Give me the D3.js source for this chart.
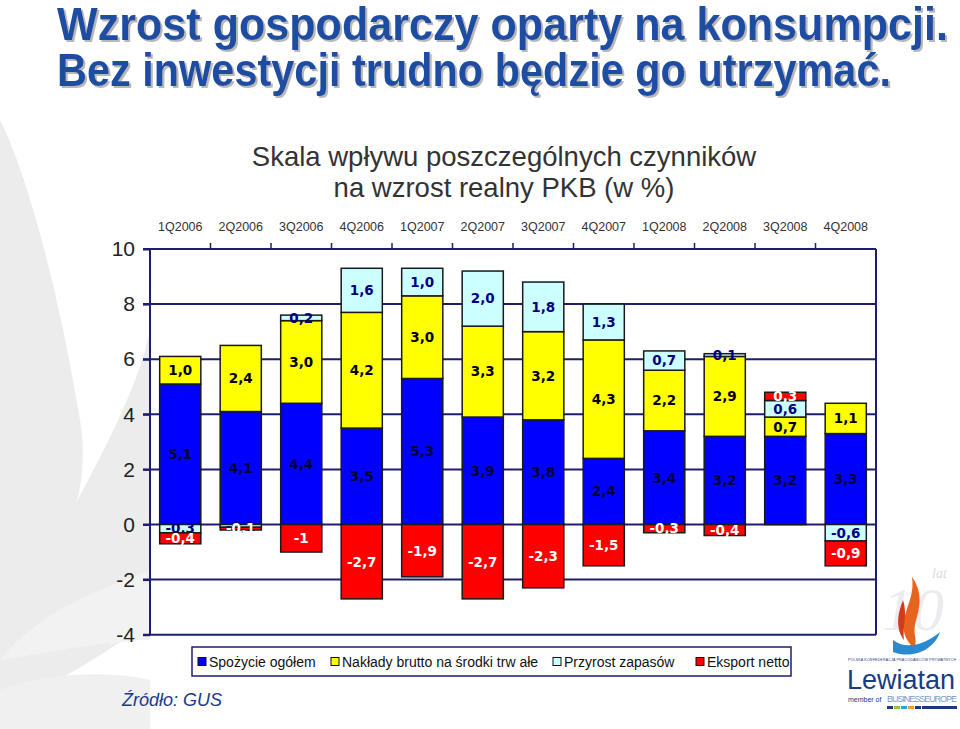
<!DOCTYPE html>
<html>
<head>
<meta charset="utf-8">
<script src="https://cdn.jsdelivr.net/npm/d3@7"></script>
<style>
  body { margin: 0; background: #fff; }
  svg { display: block; }
</style>
</head>
<body>
<div id="chart"></div>
<script>
// dane
const quarters = ["1Q2006", "2Q2006", "3Q2006", "4Q2006", "1Q2007", "2Q2007",
                  "3Q2007", "4Q2007", "1Q2008", "2Q2008", "3Q2008", "4Q2008"];
const spozycie = [5.1, 4.1, 4.4, 3.5, 5.3, 3.9, 3.8, 2.4, 3.4, 3.2, 3.2, 3.3];
const naklady  = [1.0, 2.4, 3.0, 4.2, 3.0, 3.3, 3.2, 4.3, 2.2, 2.9, 0.7, 1.1];
const zapasy   = [-0.3, -0.1, 0.2, 1.6, 1.0, 2.0, 1.8, 1.3, 0.7, 0.1, 0.6, -0.6];
const eksport  = [-0.4, -0.1, -1.0, -2.7, -1.9, -2.7, -2.3, -1.5, -0.3, -0.4, 0.3, -0.9];
const yTicks = [-4, -2, 0, 2, 4, 6, 8, 10];

const seriesNames = ["Spożycie ogółem", "Nakłady brutto na środki trw ałe", "Przyrost zapasów", "Eksport netto"];
const keys = ["spozycie", "naklady", "zapasy", "eksport"];
const colors = ["#0000ff", "#ffff00", "#ccffff", "#ff0000"];
const labelColors = ["#000033", "#000000", "#000080", "#ffffff"];

const width = 960, height = 729;
const margin = { top: 249, right: 84, bottom: 94, left: 150 };

const rows = quarters.map((q, i) => ({
    q: q, spozycie: spozycie[i], naklady: naklady[i], zapasy: zapasy[i], eksport: eksport[i]
}));

const svg = d3.select("#chart").append("svg")
    .attr("width", width)
    .attr("height", height);

// cień tytułu
const defs = svg.append("defs");
defs.append("filter")
    .attr("id", "shadow")
    .attr("x", "-5%").attr("y", "-20%").attr("width", "110%").attr("height", "150%")
    .append("feDropShadow")
    .attr("dx", 2).attr("dy", 2)
    .attr("stdDeviation", 0.6)
    .attr("flood-color", "#b8b8b8");

// tło - jasnoszare łuki po lewej
const bg = svg.append("g").attr("fill", "#ececec");
bg.append("path").attr("d", "M0,120 C30,180 60,300 80,420 C90,480 70,520 75,505 C110,440 140,380 150,330 L150,620 C100,660 40,690 0,710 Z");
bg.append("path").attr("d", "M0,660 C40,610 100,590 150,570 L150,640 C110,640 105,650 110,642 Z").attr("fill", "#f2f2f2");
bg.append("path").attr("d", "M0,690 C50,670 120,672 150,680 L150,729 L0,729 Z").attr("fill", "#f0f0f0");

// tytuł
svg.append("g")
    .attr("font-family", "'Liberation Sans Narrow', 'Arial Narrow', 'Liberation Sans', Arial, sans-serif")
    .attr("font-weight", "bold")
    .attr("font-size", 47)
    .attr("fill", "#1f4ea3")
    .attr("filter", "url(#shadow)")
    .selectAll("text")
    .data([["Wzrost gospodarczy oparty na konsumpcji.", 40, 891], ["Bez inwestycji trudno będzie go utrzymać.", 86, 834]])
    .join("text")
    .attr("x", 57)
    .attr("y", d => d[1])
    .attr("textLength", d => d[2])
    .attr("lengthAdjust", "spacingAndGlyphs")
    .text(d => d[0]);

// podtytuł
svg.append("g")
    .attr("font-family", "'Liberation Sans', Arial, sans-serif")
    .attr("font-size", 27.5)
    .attr("fill", "#333")
    .attr("text-anchor", "middle")
    .selectAll("text")
    .data(["Skala wpływu poszczególnych czynników", "na wzrost realny PKB (w %)"])
    .join("text")
    .attr("x", 504)
    .attr("y", (d, i) => 166 + i * 31)
    .text(d => d);

const x = d3.scaleBand()
    .domain(quarters)
    .range([margin.left, width - margin.right])
    .paddingInner(0.32)
    .paddingOuter(0.16);

const y = d3.scaleLinear()
    .domain([-4, 10])
    .range([height - margin.bottom - 0.3, margin.top]);

const axisColor = "#1e1e6e";

// linie siatki
svg.append("g")
    .selectAll("line")
    .data(yTicks)
    .join("line")
    .attr("x1", margin.left - 7)
    .attr("x2", width - margin.right)
    .attr("y1", d => y(d))
    .attr("y2", d => y(d))
    .attr("stroke", axisColor)
    .attr("stroke-width", 2);

// słupki
const stack = d3.stack().keys(keys).offset(d3.stackOffsetDiverging);
const stacked = stack(rows);

const layers = svg.append("g")
    .selectAll("g")
    .data(stacked)
    .join("g")
    .attr("fill", (d, i) => colors[i]);

layers.selectAll("rect")
    .data(d => d)
    .join("rect")
    .attr("x", d => x(d.data.q))
    .attr("y", d => y(Math.max(d[0], d[1])))
    .attr("width", x.bandwidth())
    .attr("height", d => Math.abs(y(d[0]) - y(d[1])))
    .attr("stroke", "#1a1a1a")
    .attr("stroke-width", 1.5);

// osie
svg.append("line")
    .attr("x1", margin.left).attr("x2", margin.left)
    .attr("y1", y(10)).attr("y2", y(-4))
    .attr("stroke", axisColor).attr("stroke-width", 2);
svg.append("line")
    .attr("x1", width - margin.right).attr("x2", width - margin.right)
    .attr("y1", y(10)).attr("y2", y(-4))
    .attr("stroke", axisColor).attr("stroke-width", 2);

// górna oś z kwartałami
const topAxis = svg.append("g")
    .attr("transform", `translate(0,${y(10)})`)
    .call(d3.axisTop(x).tickSize(0).tickPadding(18));
topAxis.select(".domain").remove();
topAxis.selectAll("text")
    .attr("font-family", "'Liberation Sans', Arial, sans-serif")
    .attr("font-size", 12.5)
    .attr("fill", "#333");
svg.append("g")
    .selectAll("line")
    .data(quarters.slice(1))
    .join("line")
    .attr("x1", d => x(d) - x.step() * x.paddingInner() / 2)
    .attr("x2", d => x(d) - x.step() * x.paddingInner() / 2)
    .attr("y1", y(10))
    .attr("y2", y(10) - 6)
    .attr("stroke", axisColor)
    .attr("stroke-width", 1.5);

// lewa oś
const leftAxis = svg.append("g")
    .attr("transform", `translate(${margin.left},0)`)
    .call(d3.axisLeft(y).tickValues(yTicks).tickFormat(d => String(d)).tickSize(7).tickPadding(8));
leftAxis.select(".domain").remove();
leftAxis.selectAll("line").attr("stroke", axisColor).attr("stroke-width", 2);
leftAxis.selectAll("text")
    .attr("font-family", "'Liberation Sans', Arial, sans-serif")
    .attr("font-size", 21)
    .attr("fill", "#222");

// etykiety wartości
const fmt1 = v => d3.format(".1f")(v).replace("−", "-").replace(".", ",");
const fmtG = v => String(v).replace(".", ",");

layers.each(function (layer, i) {
    d3.select(this).selectAll("text")
        .data(layer)
        .join("text")
        .attr("x", d => x(d.data.q) + x.bandwidth() / 2)
        .attr("y", d => (y(d[0]) + y(d[1])) / 2)
        .attr("dy", "0.36em")
        .attr("text-anchor", "middle")
        .attr("font-family", "'DejaVu Sans', Verdana, sans-serif")
        .attr("font-weight", "bold")
        .attr("font-size", 13.5)
        .attr("fill", labelColors[i])
        .text(d => {
            const v = d.data[layer.key];
            return layer.key === "eksport" ? fmtG(v) : fmt1(v);
        });
});

// legenda
const legend = svg.append("g");
legend.append("rect")
    .attr("x", 192).attr("y", 647)
    .attr("width", 599).attr("height", 29)
    .attr("fill", "#fff")
    .attr("stroke", axisColor)
    .attr("stroke-width", 1.5);
const legendX = [198, 331, 553, 696];
const items = legend.selectAll("g.item")
    .data(seriesNames)
    .join("g")
    .attr("class", "item")
    .attr("transform", (d, i) => `translate(${legendX[i]},662)`);
items.append("rect")
    .attr("x", 0).attr("y", -4.5)
    .attr("width", 8).attr("height", 8)
    .attr("fill", (d, i) => colors[i])
    .attr("stroke", "#111")
    .attr("stroke-width", 1);
items.append("text")
    .attr("x", 11)
    .attr("dy", "0.35em")
    .attr("font-family", "'Liberation Sans', Arial, sans-serif")
    .attr("font-size", 14)
    .attr("fill", "#111")
    .text(d => d);

// źródło
svg.append("text")
    .attr("x", 122).attr("y", 706)
    .attr("font-family", "'Liberation Sans', Arial, sans-serif")
    .attr("font-style", "italic")
    .attr("font-size", 18)
    .attr("fill", "#1a3a8c")
    .text("Źródło: GUS");

// logo Lewiatan (uproszczone)
const logo = svg.append("g");
logo.append("text")
    .attr("x", 882).attr("y", 630)
    .attr("font-family", "'Liberation Serif', serif")
    .attr("font-style", "italic")
    .attr("font-size", 62)
    .attr("fill", "#ececf0")
    .text("10");
logo.append("text")
    .attr("x", 932).attr("y", 578)
    .attr("font-family", "'Liberation Serif', serif")
    .attr("font-style", "italic")
    .attr("font-size", 14)
    .attr("fill", "#dcdce4")
    .text("lat");
logo.append("path")
    .attr("d", "M912,577 C925,595 918,612 915,625 C913,636 918,640 914,648 C905,640 900,628 906,612 C910,600 914,590 912,577 Z")
    .attr("fill", "#e8641e");
logo.append("path")
    .attr("d", "M903,600 C908,615 902,628 904,640 C898,632 895,620 903,600 Z")
    .attr("fill", "#d43a1a");
logo.append("path")
    .attr("d", "M893,640 C905,650 925,645 940,632 C935,648 915,660 893,652 Z")
    .attr("fill", "#2a8ad0");
logo.append("text")
    .attr("x", 848).attr("y", 661)
    .attr("font-family", "'Liberation Sans', Arial, sans-serif")
    .attr("font-size", 3.6)
    .attr("fill", "#1a3a7c")
    .attr("textLength", 108)
    .text("POLSKA KONFEDERACJA PRACODAWCÓW PRYWATNYCH");
logo.append("text")
    .attr("x", 847).attr("y", 689)
    .attr("font-family", "'Liberation Sans', Arial, sans-serif")
    .attr("font-size", 27)
    .attr("fill", "#163c82")
    .attr("textLength", 108)
    .attr("lengthAdjust", "spacingAndGlyphs")
    .text("Lewiatan");
logo.append("text")
    .attr("x", 848).attr("y", 702)
    .attr("font-family", "'Liberation Sans', Arial, sans-serif")
    .attr("font-size", 7)
    .attr("fill", "#1a3a7c")
    .text("member of");
logo.append("text")
    .attr("x", 887).attr("y", 702)
    .attr("font-family", "'Liberation Sans', Arial, sans-serif")
    .attr("font-size", 9)
    .attr("fill", "#7a9ac8")
    .attr("textLength", 70)
    .text("BUSINESSEUROPE");
const stripe = ["#1a3a7c", "#9bc13c", "#2aa0d8", "#f0a030", "#1a3a7c"];
logo.selectAll("rect.stripe")
    .data(stripe)
    .join("rect")
    .attr("class", "stripe")
    .attr("x", (d, i) => 887 + i * 7)
    .attr("y", 706)
    .attr("width", 6)
    .attr("height", 3)
    .attr("fill", d => d);
logo.append("rect")
    .attr("x", 922).attr("y", 706).attr("width", 35).attr("height", 3).attr("fill", "#1a3a7c");
</script>
</body>
</html>
